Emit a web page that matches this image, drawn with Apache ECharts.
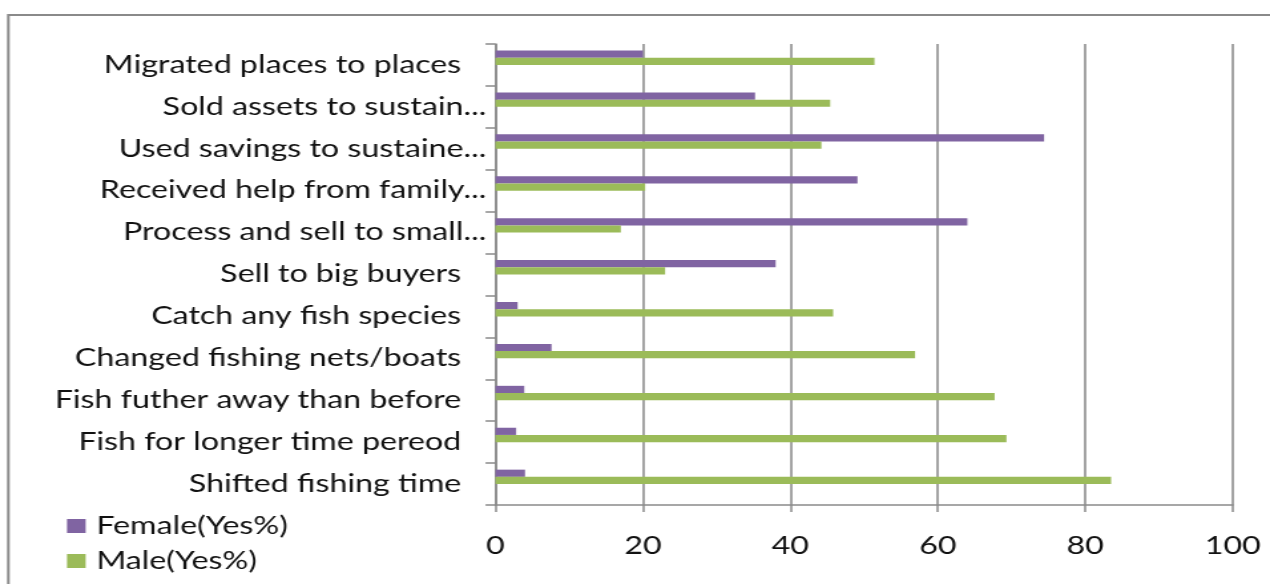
<!DOCTYPE html>
<html><head><meta charset="utf-8">
<script src="https://cdn.jsdelivr.net/npm/echarts@6/dist/echarts.min.js"></script>
<style>
html,body{margin:0;padding:0;background:#fff;overflow:hidden;width:1270px;height:584px}
#c{width:955px;height:584px;transform:scaleX(1.32984);transform-origin:0 0}
</style></head><body><div id="c"></div>
<script>
const categories = [
  "Migrated places to places",
  "Sold assets to sustain...",
  "Used savings to sustaine...",
  "Received help from family...",
  "Process and sell to small...",
  "Sell to big buyers",
  "Catch any fish species",
  "Changed fishing nets/boats",
  "Fish futher away than before",
  "Fish for longer time pereod",
  "Shifted fishing time"
];
const femaleYes = [20.0, 35.2, 74.4, 49.1, 64.0, 38.0, 3.0, 7.6, 3.9, 2.8, 4.0];
const maleYes   = [51.4, 45.4, 44.2, 20.3, 17.0, 23.0, 45.8, 56.9, 67.7, 69.3, 83.5];
const seriesNames = ["Female(Yes%)", "Male(Yes%)"];
const xMin = 0, xMax = 100, xStep = 20;

const FONT = 'Lato';
const FS = 24.2;
const chart = echarts.init(document.getElementById('c'), null, {renderer: 'canvas'});
const empty = categories.map(() => '-');
chart.setOption({
  animation: false,
  backgroundColor: '#fff',
  textStyle: {fontFamily: FONT},
  graphic: [{
    type: 'rect', silent: true, z: -1,
    shape: {x: 6.3, y: 15, width: 2000, height: 1000},
    style: {fill: 'none', stroke: '#8a8a8a', lineWidth: 2}
  }],
  grid: {left: 372.6, right: 28, top: 44, bottom: 79, containLabel: false},
  legend: {
    data: seriesNames,
    orient: 'vertical', left: 50.4, top: 514, padding: 0,
    itemWidth: 14, itemHeight: 14, itemGap: 11,
    icon: 'rect',
    textStyle: {fontFamily: FONT, fontSize: FS, color: '#111', lineHeight: 24, padding: [0, 0, 0, 3]}
  },
  xAxis: {
    type: 'value', min: xMin, max: xMax, interval: xStep,
    axisLine: {show: true, lineStyle: {color: '#8a8a8a', width: 1.5}},
    axisTick: {show: true, length: 7, lineStyle: {color: '#8a8a8a', width: 1.5}},
    splitLine: {show: true, lineStyle: {color: '#8e8e8e', width: 1.6}},
    axisLabel: {fontFamily: FONT, fontSize: FS, color: '#111', margin: 29, lineHeight: 24}
  },
  yAxis: {
    type: 'category', data: categories, inverse: true,
    axisLine: {show: true, lineStyle: {color: '#8a8a8a', width: 1.5}},
    axisTick: {show: true, length: 7.5, lineStyle: {color: '#8a8a8a', width: 1.5}},
    splitLine: {show: false},
    axisLabel: {
      margin: 7, fontFamily: FONT, fontSize: FS, color: '#111',
      formatter: v => v.endsWith('...') ? '{t|' + v + '}' : '{f|' + v + '}',
      rich: {
        t: {fontFamily: FONT, fontSize: FS, color: '#111'},
        f: {fontFamily: FONT, fontSize: FS, color: '#111', padding: [0, 18.8, 0, 0]}
      }
    }
  },
  series: [
    {name: seriesNames[0], type: 'bar', data: femaleYes, barWidth: 7.2, barGap: '0%',
     itemStyle: {color: '#8064A2'}},
    {name: seriesNames[1], type: 'bar', data: maleYes, barWidth: 7.2, barGap: '0%',
     itemStyle: {color: '#9BBB59'}},
    {name: 'pad1', type: 'bar', data: empty, barWidth: 7.2, barGap: '0%', silent: true},
    {name: 'pad2', type: 'bar', data: empty, barWidth: 7.2, barGap: '0%', silent: true}
  ]
});
</script></body></html>
